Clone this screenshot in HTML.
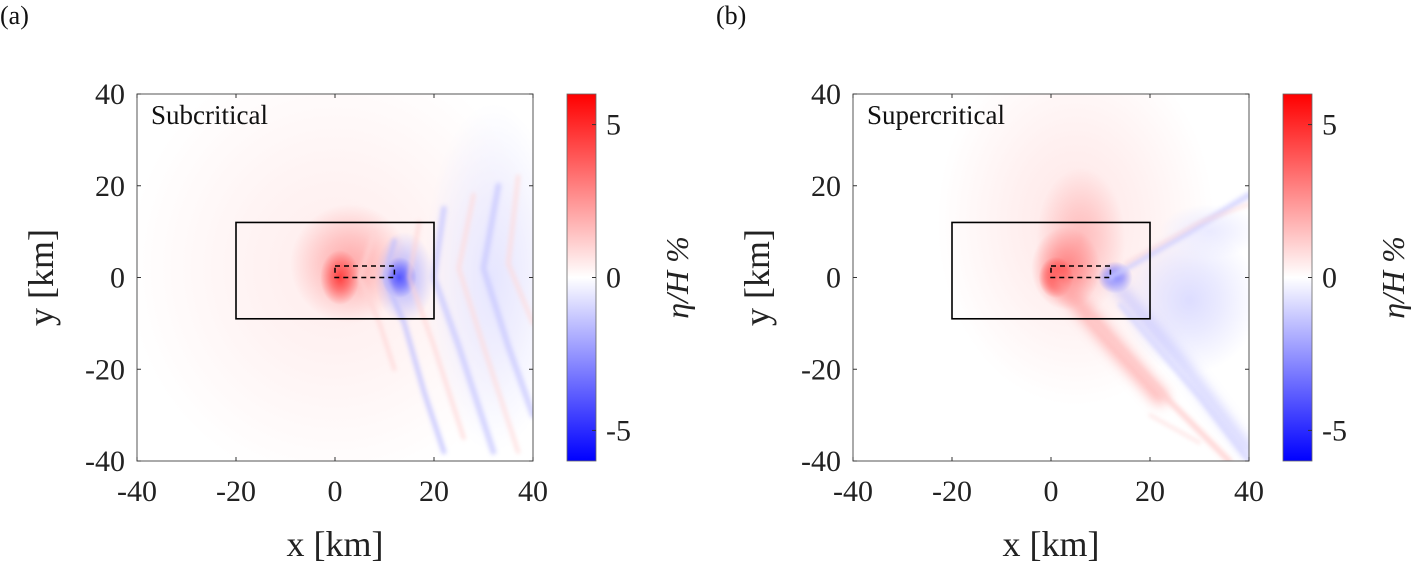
<!DOCTYPE html>
<html><head><meta charset="utf-8">
<style>
html,body{margin:0;padding:0;background:#fff;}
svg{display:block;font-family:"Liberation Serif",serif;}
</style></head>
<body>
<svg id="fig" width="1413" height="568" viewBox="0 0 1413 568" xmlns="http://www.w3.org/2000/svg">
<defs id="defs">
<filter id="blur3" x="-50%" y="-50%" width="200%" height="200%"><feGaussianBlur stdDeviation="2"/></filter>
<filter id="blur6" x="-50%" y="-50%" width="200%" height="200%"><feGaussianBlur stdDeviation="6"/></filter>
<linearGradient id="cbar" x1="0" y1="0" x2="0" y2="1">
<stop offset="0" stop-color="#ff0000"/><stop offset="0.5" stop-color="#ffffff"/><stop offset="1" stop-color="#0000ff"/>
</linearGradient>
</defs>
<g id="root"></g>
</svg>
<script>
const xTicks=[-40,-20,0,20,40];
const yTicks=[-40,-20,0,20,40];
const cTicks=[-5,0,5];
const boxX=[-20,20], boxY=[-9,12];
const dashX=[0,12], dashY=[0,2.5];
// blobs: [x km, y km, rx km, ry km, value %]
const blobsA=[[0,2,42,48,0.45],[3,3,12,13,2.0],[1,0,4,6,4.5],[14,0,6,10,-1.8],[13,0,3.5,4.5,-4],[32,0,14,38,-0.6]];
const blobsB=[[5,12,28,40,0.6],[6,8,9,16,1.6],[3,2,7,9,3],[1,0,3.5,4.5,5],[13,0,3.5,3.5,-3.5],[28,-5,14,16,-0.8],[32,10,10,6,-0.5]];
// stripes: [[[x,y],...], value, width px]
const stripesA=[[[[8,10],[5,0],[9,-10],[12,-20]],1,4],[[[12,8],[10,0],[14,-10],[18,-25],[22,-38]],-1.5,5],[[[17,12],[15,0],[20,-15],[26,-35]],1,4],[[[22,15],[20,0],[25,-15],[32,-38]],-1.3,6],[[[28,18],[25,2],[30,-15],[37,-38]],0.9,4],[[[33,20],[30,2],[35,-15],[40,-30]],-1.3,6],[[[37,22],[35,3],[40,-10]],0.9,4]];
const stripesB=[[[[1,0],[12,-14],[22,-26]],2.2,16],[[[8,-9],[24,-27],[36,-40]],1.2,6],[[[12,0],[26,-18],[40,-38]],-1.6,10],[[[14,-6],[30,-26],[40,-40]],-1,5],[[[12,0],[28,10],[40,18]],-1.2,6],[[[15,3],[30,12],[40,16]],0.9,3],[[[20,-30],[30,-36]],0.9,3]];

const NS="http://www.w3.org/2000/svg";
const root=document.getElementById('root');
const defs=document.getElementById('defs');
let gid=0;
function mk(tag,attrs,parent){const e=document.createElementNS(NS,tag);for(const k in attrs)e.setAttribute(k,attrs[k]);(parent||root).appendChild(e);return e;}
function col(v){const t=Math.min(1,Math.abs(v)/6);const c=Math.round(255*(1-t));return v>=0?`rgb(255,${c},${c})`:`rgb(${c},${c},255)`;}

function panel(x0,label,title,blobs,stripes,key){
  const L=x0,R=x0+396,T=94,B=461;
  const sx=v=>L+(v+40)/80*(R-L), sy=v=>B-(v+40)/80*(B-T);
  const g=mk('g',{});
  
  
  const clip=mk('clipPath',{id:'clip'+key},g);mk('rect',{x:L,y:T,width:R-L,height:B-T},clip);
  const field=mk('g',{'clip-path':`url(#clip${key})`},g);
  
  
  mk('rect',{x:L,y:T,width:R-L,height:B-T,fill:'#fff'},field);
  blobs.forEach(b=>{
    const id='rg'+(gid++);
    const rg=mk('radialGradient',{id:id},defs);
    mk('stop',{offset:0,'stop-color':col(b[4]),'stop-opacity':1},rg);
    mk('stop',{offset:0.45,'stop-color':col(b[4]),'stop-opacity':0.6},rg);
    mk('stop',{offset:1,'stop-color':col(b[4]),'stop-opacity':0},rg);
    const e=mk('ellipse',{cx:sx(b[0]),cy:sy(b[1]),rx:b[2]*(R-L)/80,ry:b[3]*(B-T)/80,fill:`url(#${id})`},field);
    
    });
  stripes.forEach(s=>{const e=mk('polyline',{points:s[0].map(p=>sx(p[0])+','+sy(p[1])).join(' '),fill:'none',stroke:col(s[1]),'stroke-width':s[2],'stroke-linejoin':'round','stroke-linecap':'round',filter:s[2]>8?'url(#blur6)':'url(#blur3)',opacity:0.75},field);
    
    });
  const bx=mk('rect',{x:sx(boxX[0]),y:sy(boxY[1]),width:sx(boxX[1])-sx(boxX[0]),height:sy(boxY[0])-sy(boxY[1]),fill:'none',stroke:'#000','stroke-width':1.6},g);
  
  
  const db=mk('rect',{x:sx(dashX[0]),y:sy(dashY[1]),width:sx(dashX[1])-sx(dashX[0]),height:sy(dashY[0])-sy(dashY[1]),fill:'none',stroke:'#000','stroke-width':1.5,'stroke-dasharray':'5,4'},g);
  
  
  const fr=mk('rect',{x:L,y:T,width:R-L,height:B-T,fill:'none',stroke:'#555','stroke-width':1},g);
  
  
  xTicks.forEach(v=>{mk('line',{x1:sx(v),x2:sx(v),y1:B,y2:B-4,stroke:'#333'},g);mk('line',{x1:sx(v),x2:sx(v),y1:T,y2:T+4,stroke:'#333'},g);
    const t=mk('text',{x:sx(v),y:B+40,'text-anchor':'middle','font-size':30,fill:'#222'},g);t.textContent=v;
    
    });
  yTicks.forEach(v=>{mk('line',{x1:L,x2:L+4,y1:sy(v),y2:sy(v),stroke:'#333'},g);mk('line',{x1:R,x2:R-4,y1:sy(v),y2:sy(v),stroke:'#333'},g);
    const t=mk('text',{x:L-12,y:sy(v)+10,'text-anchor':'end','font-size':30,fill:'#222'},g);t.textContent=v;
    
    });
  const xl=mk('text',{x:(L+R)/2,y:556,'text-anchor':'middle','font-size':36,fill:'#222'},g);xl.textContent='x [km]';
  
  
  const yl=mk('text',{x:0,y:0,'text-anchor':'middle','font-size':36,fill:'#222',transform:`translate(${L-84},${(T+B)/2}) rotate(-90)`},g);yl.textContent='y [km]';
  
  
  const tt=mk('text',{x:L+14,y:T+30,'font-size':27,fill:'#111'},g);tt.textContent=title;
  
  
  const pl=mk('text',{x:x0-137,y:24,'font-size':26,fill:'#111'},g);pl.textContent=label;
  
  
  const cx=x0+430,cw=29;
  const cb=mk('rect',{x:cx,y:T,width:cw,height:B-T,fill:'url(#cbar)',stroke:'#666','stroke-width':0.8},g);
  
  
  const cy=v=>(T+B)/2-v/12*(B-T);
  cTicks.forEach(v=>{mk('line',{x1:cx+cw-4,x2:cx+cw,y1:cy(v),y2:cy(v),stroke:'#333'},g);
    const t=mk('text',{x:cx+cw+10,y:cy(v)+10,'font-size':30,fill:'#222'},g);t.textContent=v;
    
    });
  const cl=mk('text',{x:0,y:0,'text-anchor':'middle','font-size':32,'font-style':'italic',fill:'#222',transform:`translate(${cx+cw+92},${(T+B)/2}) rotate(-90)`},g);cl.textContent='η/H %';
  
  
}
panel(137,'(a)','Subcritical',blobsA,stripesA,'a');
panel(853,'(b)','Supercritical',blobsB,stripesB,'b');
</script>
</body></html>
